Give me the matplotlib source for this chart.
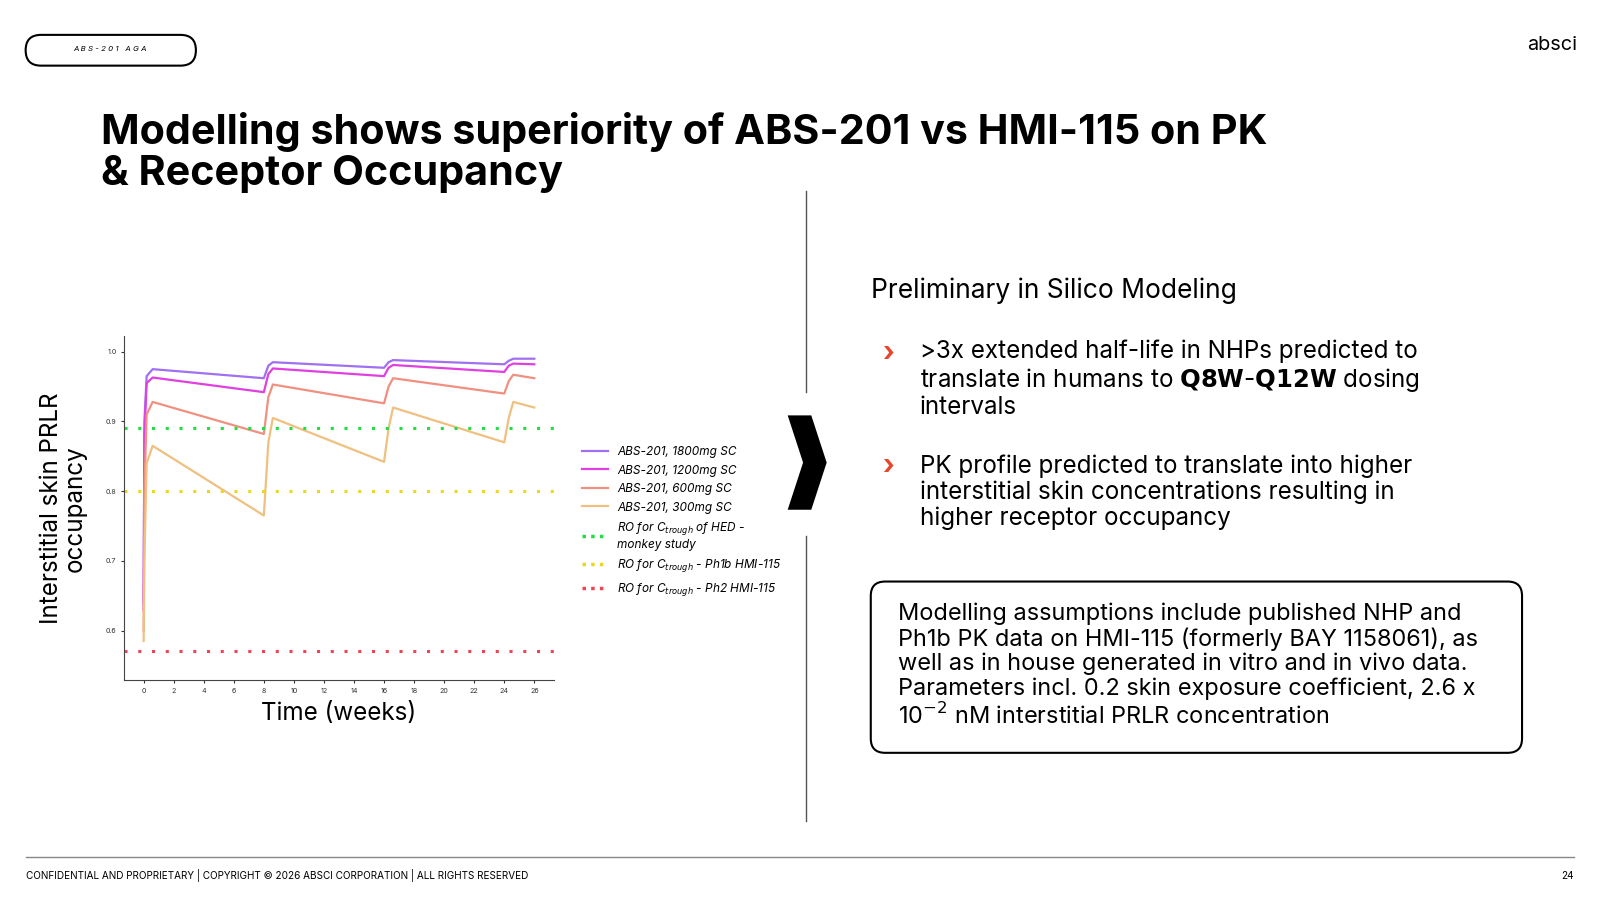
import matplotlib
matplotlib.use('Agg')
import matplotlib.pyplot as plt
from matplotlib.patches import FancyBboxPatch, Polygon
from matplotlib.lines import Line2D

plt.rcParams['font.family'] = ['Inter', 'DejaVu Sans']

# layout coordinates below are in the slide's 1560 x 877.5 pixel space
W, H = 1560, 877.5
S = 1600 / W

# time points (weeks) shared by all dose curves
weeks = [0, 0.05, 0.2, 0.6, 8, 8.3, 8.6, 16, 16.3, 16.6, 24, 24.3, 24.6, 26]
ro_1800 = [0.64, 0.90, 0.965, 0.975, 0.962, 0.980, 0.985, 0.977, 0.985, 0.988, 0.982, 0.987, 0.990, 0.990]
ro_1200 = [0.63, 0.88, 0.955, 0.963, 0.942, 0.968, 0.976, 0.965, 0.977, 0.981, 0.971, 0.980, 0.983, 0.982]
ro_600 = [0.60, 0.80, 0.91, 0.928, 0.882, 0.935, 0.953, 0.926, 0.950, 0.962, 0.940, 0.958, 0.967, 0.962]
ro_300 = [0.585, 0.70, 0.84, 0.865, 0.765, 0.87, 0.905, 0.842, 0.89, 0.92, 0.870, 0.905, 0.928, 0.920]
dose_labels = ['ABS-201, 1800mg SC', 'ABS-201, 1200mg SC', 'ABS-201, 600mg SC', 'ABS-201, 300mg SC']
dose_colors = ['#a070f0', '#e040e0', '#f09080', '#f0c080']

ref_values = [0.89, 0.80, 0.57]
ref_labels = ['RO for C$_{trough}$ of HED -\nmonkey study',
              'RO for C$_{trough}$ - Ph1b HMI-115',
              'RO for C$_{trough}$ - Ph2 HMI-115']
ref_colors = ['#22dd44', '#e8d820', '#ee4455']

x_ticks = list(range(0, 27, 2))
y_ticks = [0.6, 0.7, 0.8, 0.9, 1.0]


def px(x0, y0, w, h):
    return [x0 / W, 1 - (y0 + h) / H, w / W, h / H]


def fs(size):
    return size * S


fig = plt.figure(figsize=(16, 9), dpi=100)
bg = fig.add_axes([0, 0, 1, 1])
bg.set_xlim(0, W)
bg.set_ylim(H, 0)
bg.axis('off')

# header
bg.add_patch(FancyBboxPatch((25, 34), 166, 30, boxstyle='round,pad=0,rounding_size=15',
                            fc='white', ec='black', lw=1.5))
bg.text(107, 48, 'A B S - 2 0 1   A G A', fontsize=fs(5.5), style='italic', ha='center', va='center')
bg.text(1538, 44, 'absci', fontsize=fs(14), ha='right', va='center')
bg.text(98, 149, 'Modelling shows superiority of ABS-201 vs HMI-115 on PK\n& Receptor Occupancy',
        fontsize=fs(29), fontweight='bold', ha='left', va='center', linespacing=1.1)

# divider and chevron
bg.plot([786, 786], [186, 382], color='#555555', lw=1)
bg.plot([786, 786], [523, 800], color='#555555', lw=1)
bg.add_patch(Polygon([[768, 405], [791, 405], [806, 451], [791, 497], [768, 497], [783, 451]],
                     closed=True, fc='black'))

# right text
bg.text(849, 283, 'Preliminary in Silico Modeling', fontsize=fs(18.5), va='center')
bg.text(860, 345, '›', fontsize=fs(19), color='#e8452a', fontweight='bold', va='center')
bg.text(897, 370, '>3x extended half-life in NHPs predicted to\ntranslate in humans to $\\bf{Q8W}$-$\\bf{Q12W}$ dosing\nintervals',
        fontsize=fs(17), va='center', linespacing=1.12)
bg.text(860, 455, '›', fontsize=fs(19), color='#e8452a', fontweight='bold', va='center')
bg.text(897, 480, 'PK profile predicted to translate into higher\ninterstitial skin concentrations resulting in\nhigher receptor occupancy',
        fontsize=fs(17), va='center', linespacing=1.12)
bg.add_patch(FancyBboxPatch((849, 567), 635, 167, boxstyle='round,pad=0,rounding_size=14',
                            fc='white', ec='black', lw=1.5))
bg.text(876, 649, 'Modelling assumptions include published NHP and\nPh1b PK data on HMI-115 (formerly BAY 1158061), as\n'
        'well as in house generated in vitro and in vivo data.\nParameters incl. 0.2 skin exposure coefficient, 2.6 x\n'
        '10$^{-2}$ nM interstitial PRLR concentration',
        fontsize=fs(16.5), va='center', linespacing=1.12)

# footer
bg.plot([25, 1535], [836, 836], color='#888888', lw=1)
bg.text(25, 854, 'CONFIDENTIAL AND PROPRIETARY | COPYRIGHT © 2026 ABSCI CORPORATION | ALL RIGHTS RESERVED',
        fontsize=fs(7), va='center')
bg.text(1535, 854, '24', fontsize=fs(7), va='center', ha='right')

# chart
ax = fig.add_axes(px(121, 328, 419, 335))
for vals, lab, col in zip([ro_1800, ro_1200, ro_600, ro_300], dose_labels, dose_colors):
    ax.plot(weeks, vals, color=col, lw=1.6, label=lab)
for val, lab, col in zip(ref_values, ref_labels, ref_colors):
    ax.axhline(val, color=col, lw=2.2, ls=(0, (1, 3.5)), label=lab)
ax.set_xlim(-1.3, 27.3)
ax.set_ylim(0.529, 1.022)
ax.set_xticks(x_ticks)
ax.set_yticks(y_ticks)
ax.tick_params(labelsize=fs(5), colors='#333333', length=2)
ax.spines[['top', 'right']].set_visible(False)
ax.spines[['left', 'bottom']].set_color('#444444')
ax.set_xlabel('Time (weeks)', fontsize=fs(17), labelpad=6)
ax.set_ylabel('Interstitial skin PRLR\noccupancy', fontsize=fs(17), linespacing=1.0, labelpad=14)

handles = [Line2D([], [], color=c, lw=1.6) for c in dose_colors] + \
          [Line2D([], [], color=c, lw=2.5, ls=(0, (1, 1.5))) for c in ref_colors]
ax.legend(handles, dose_labels + ref_labels, loc='center left', bbox_to_anchor=(1.04, 0.46),
          frameon=False, prop={'size': fs(8.3), 'style': 'italic'}, handlelength=2.2,
          labelspacing=0.55)

fig.savefig('out.png', dpi=100)
